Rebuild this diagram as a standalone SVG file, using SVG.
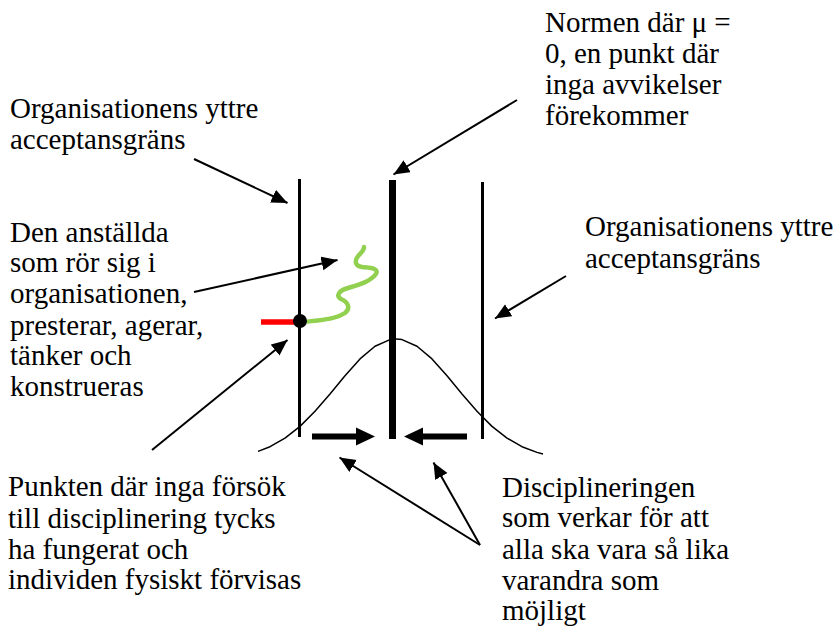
<svg xmlns="http://www.w3.org/2000/svg" width="837" height="626" viewBox="0 0 837 626">
  <style>
    .lbl { font-family: 'Liberation Serif', 'Times New Roman', Tinos, 'Noto Serif', 'Nimbus Roman', 'Nimbus Roman No9 L', FreeSerif, 'DejaVu Serif', Georgia, Times, serif; font-size: 29px; fill: #000; }
    .pointer { stroke: #000; stroke-width: 2; fill: none; marker-end: url(#head); }
    .bound { stroke: #000; stroke-width: 3; }
    .norm { stroke: #000; stroke-width: 7; }
    .push { stroke: #000; stroke-width: 6; }
  </style>
  <defs>
    <marker id="head" markerUnits="userSpaceOnUse" markerWidth="17" markerHeight="15" refX="16" refY="7" orient="auto">
      <path d="M0,0 L16,7 L0,14 z" fill="#000"/>
    </marker>
  </defs>

  <rect width="837" height="626" fill="#fff"/>

  <!-- boundaries and norm -->
  <g id="left-boundary"><line class="bound" x1="299.5" y1="179" x2="299.5" y2="437"/></g>
  <g id="norm-line"><line class="norm" x1="392.5" y1="180" x2="392.5" y2="439"/></g>
  <g id="right-boundary"><line class="bound" x1="482.5" y1="182" x2="482.5" y2="439"/></g>

  <!-- normal distribution curve -->
  <g id="bell-curve">
    <path d="M258,451.4 L270,446.7 L285,438.1 L300,426.4 L315,411.3 L330,393.9 L345,375.7 L360,358.9 L375,346.2 L390,339.6 Q396,338.6 402,339.6 L417,346.2 L432,358.9 L447,375.7 L462,393.9 L477,411.3 L492,426.4 L507,438.1 L522,446.7 L537,452.4 L543,454" fill="none" stroke="#000" stroke-width="1.5" stroke-linejoin="round"/>
  </g>

  <!-- employee path -->
  <g id="employee">
    <line x1="261" y1="322" x2="300" y2="322" stroke="#ff0000" stroke-width="5.5"/>
    <path d="M308,321.5 C322,320 336,319 345,313 C351,308 348,302 341,299 C336,296 338,291 348,288 C358,285 370,282 376,274 C379,268 370,268 362,267 C353,265 355,259 360,254 C363,251 364,249 364,247" fill="none" stroke="#92d050" stroke-width="4.5" stroke-linecap="round" stroke-linejoin="round"/>
    <circle cx="300" cy="321" r="7" fill="#000"/>
  </g>

  <!-- disciplining forces -->
  <g id="push-arrows">
    <line class="push" x1="312" y1="436.5" x2="358" y2="436.5"/>
    <path d="M356,427.5 L375,436.5 L356,445.5 z" fill="#000"/>
    <line class="push" x1="467" y1="436.5" x2="421" y2="436.5"/>
    <path d="M423,427.5 L404,436.5 L423,445.5 z" fill="#000"/>
  </g>

  <!-- label pointers -->
  <g id="connectors">
    <line class="pointer" x1="194" y1="159" x2="287.5" y2="203"/>
    <line class="pointer" x1="194" y1="292" x2="337.5" y2="260"/>
    <line class="pointer" x1="152" y1="450" x2="287.5" y2="340"/>
    <line class="pointer" x1="517" y1="100" x2="393.5" y2="174.5"/>
    <line class="pointer" x1="566" y1="276" x2="495" y2="318.5"/>
    <line class="pointer" x1="480" y1="545" x2="339.5" y2="457.5"/>
    <line class="pointer" x1="480" y1="545" x2="433.5" y2="462.5"/>
  </g>

  <!-- labels -->
  <g id="label-norm" class="lbl">
    <text x="545" y="32">Normen där μ =</text>
    <text x="545" y="63">0, en punkt där</text>
    <text x="545" y="94">inga avvikelser</text>
    <text x="545" y="125">förekommer</text>
  </g>
  <g id="label-outer-left" class="lbl">
    <text x="10" y="118">Organisationens yttre</text>
    <text x="10" y="149">acceptansgräns</text>
  </g>
  <g id="label-employee" class="lbl">
    <text x="10" y="242">Den anställda</text>
    <text x="10" y="272">som rör sig i</text>
    <text x="10" y="303">organisationen,</text>
    <text x="10" y="335">presterar, agerar,</text>
    <text x="10" y="365">tänker och</text>
    <text x="10" y="396">konstrueras</text>
  </g>
  <g id="label-outer-right" class="lbl">
    <text x="585" y="236">Organisationens yttre</text>
    <text x="585" y="268">acceptansgräns</text>
  </g>
  <g id="label-expulsion" class="lbl">
    <text x="8" y="496">Punkten där inga försök</text>
    <text x="8" y="528">till disciplinering tycks</text>
    <text x="8" y="559">ha fungerat och</text>
    <text x="8" y="589">individen fysiskt förvisas</text>
  </g>
  <g id="label-disciplining" class="lbl">
    <text x="502" y="497">Disciplineringen</text>
    <text x="502" y="527">som verkar för att</text>
    <text x="502" y="559">alla ska vara så lika</text>
    <text x="502" y="590">varandra som</text>
    <text x="502" y="620">möjligt</text>
  </g>
</svg>
